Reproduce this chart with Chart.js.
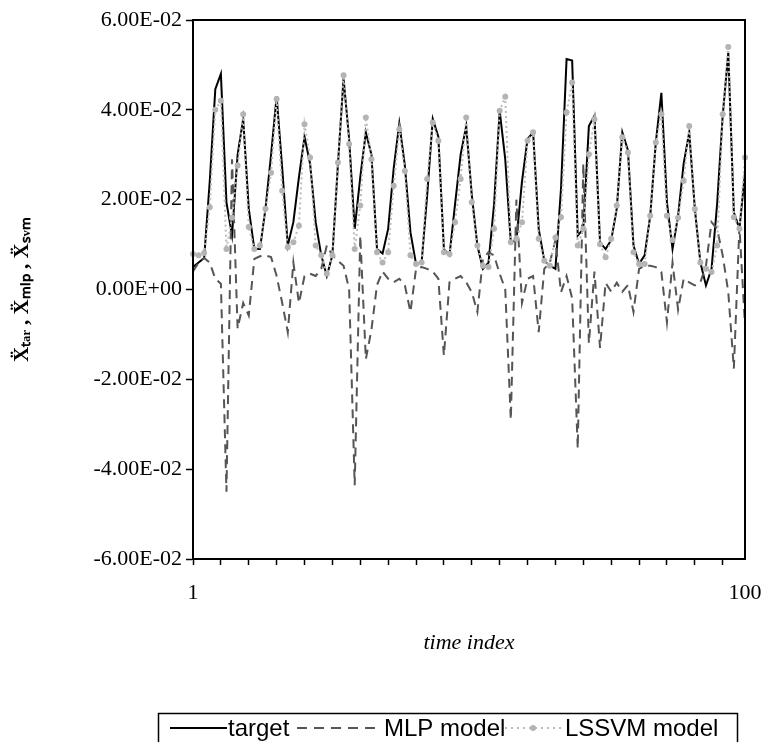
<!DOCTYPE html>
<html>
<head>
<meta charset="utf-8">
<script src="https://cdn.jsdelivr.net/npm/chart.js@4.4.0/dist/chart.umd.min.js"></script>
<style>
  html, body { margin: 0; padding: 0; background: #fff; }
</style>
</head>
<body>
<canvas id="chart" width="763" height="742"></canvas>
<script>
// time index 1..100
const timeIndex = [];
for (let i = 1; i <= 100; i++) timeIndex.push(String(i));

const yTicks = [-0.06, -0.04, -0.02, 0, 0.02, 0.04, 0.06];
const xShownLabels = ['1', '100'];

const target = [
  0.005, 0.006, 0.007, 0.024, 0.0446, 0.048, 0.0194, 0.012, 0.030, 0.038,
  0.018, 0.009, 0.009, 0.018, 0.030, 0.043, 0.027, 0.0098, 0.015, 0.025,
  0.034, 0.028, 0.015, 0.0076, 0.003, 0.0076, 0.028, 0.047, 0.0335, 0.0135,
  0.025, 0.035, 0.030, 0.009, 0.008, 0.0135, 0.027, 0.037, 0.0275, 0.0127,
  0.0057, 0.006, 0.021, 0.038, 0.034, 0.009, 0.0076, 0.019, 0.030, 0.0364,
  0.021, 0.0098, 0.0046, 0.006, 0.019, 0.0398, 0.029, 0.0105, 0.011, 0.024,
  0.0335, 0.035, 0.0135, 0.0064, 0.0053, 0.0046, 0.0224, 0.0513, 0.051, 0.012,
  0.0135, 0.0364, 0.0387, 0.0105, 0.009, 0.011, 0.018, 0.035, 0.031, 0.0098,
  0.0057, 0.0076, 0.0164, 0.0327, 0.0438, 0.0194, 0.009, 0.0164, 0.028, 0.035,
  0.018, 0.006, 0.0009, 0.0046, 0.019, 0.0387, 0.0527, 0.0172, 0.0135, 0.026
];

const mlpModel = [
  0.004, 0.006, 0.007, 0.006, 0.0024, 0.0013, -0.045, 0.029, -0.0087, -0.003,
  -0.0058, 0.0068, 0.0074, 0.0076, 0.0072, 0.003, -0.003, -0.0095, 0.006, -0.003,
  0.003, 0.0035, 0.003, 0.0046, 0.0098, 0.0076, 0.0064, 0.0053, 0.0001, -0.0436,
  0.012, -0.0155, -0.009, 0.001, 0.004, 0.0024, 0.0016, 0.0024, 0.0009, -0.005,
  0.0046, 0.005, 0.0046, 0.004, 0.0024, -0.0147, 0.0016, 0.0024, 0.003, 0.0016,
  -0.0006, -0.005, 0.0068, 0.0083, 0.0076, 0.0035, 0.0001, -0.029, 0.020, -0.003,
  0.0024, 0.003, -0.0095, 0.0046, 0.006, 0.011, -0.0006, 0.003, -0.002, -0.0354,
  0.028, -0.012, 0.004, -0.013, 0.0015, -0.0005, 0.0015, -0.0005, 0.001, -0.005,
  0.0046, 0.0053, 0.0053, 0.005, 0.0039, -0.0073, 0.006, -0.0045, 0.0024, 0.0016,
  0.0009, 0.0016, 0.0053, 0.015, 0.0135, 0.0076, -0.0006, -0.0176, 0.014, -0.008
];

const lssvmModel = [
  0.0079, 0.0076, 0.0081, 0.0183, 0.040, 0.042, 0.009, 0.016, 0.0276, 0.039,
  0.0139, 0.009, 0.0098, 0.018, 0.026, 0.0424, 0.022, 0.0094, 0.0105, 0.0142,
  0.0368, 0.0294, 0.0098, 0.0076, 0.0035, 0.0076, 0.0283, 0.0477, 0.0324, 0.009,
  0.0187, 0.0383, 0.029, 0.0083, 0.006, 0.0083, 0.0231, 0.0357, 0.0264, 0.0076,
  0.0057, 0.006, 0.0246, 0.0372, 0.0331, 0.0083, 0.0079, 0.015, 0.0246, 0.0383,
  0.0194, 0.0098, 0.0053, 0.005, 0.0135, 0.0398, 0.0429, 0.0105, 0.0113, 0.015,
  0.0331, 0.035, 0.0113, 0.0064, 0.0053, 0.0116, 0.0161, 0.0394, 0.0461, 0.0098,
  0.0135, 0.0301, 0.0379, 0.0101, 0.0072, 0.0113, 0.0187, 0.0339, 0.0305, 0.0083,
  0.0057, 0.0057, 0.0164, 0.0327, 0.039, 0.0164, 0.011, 0.016, 0.0242, 0.0364,
  0.0179, 0.006, 0.0046, 0.0039, 0.0098, 0.039, 0.054, 0.0161, 0.0135, 0.0294
];

const serif = '"Liberation Serif", "Times New Roman", serif';
const sans = '"Liberation Sans", Arial, sans-serif';

// 6.00E-02 style labels
function sci(v) {
  if (Math.abs(v) < 1e-12) v = 0;
  const parts = v.toExponential(2).toUpperCase().split('E');
  let exp = parseInt(parts[1], 10);
  const sign = exp < 0 ? '-' : '+';
  exp = Math.abs(exp);
  return parts[0] + 'E' + sign + (exp < 10 ? '0' + exp : exp);
}

// plot frame (top and right sides too)
const framePlugin = {
  id: 'frame',
  afterDatasetsDraw(chart) {
    const a = chart.chartArea, ctx = chart.ctx;
    ctx.save();
    ctx.strokeStyle = '#000';
    ctx.lineWidth = 2;
    ctx.strokeRect(a.left, a.top, a.right - a.left, a.bottom - a.top);
    ctx.restore();
  }
};

// boxed legend under the axis title
const legendBox = {
  id: 'legendBox',
  afterDraw(chart) {
    const ctx = chart.ctx;
    const y = 728;
    ctx.save();
    ctx.strokeStyle = '#000';
    ctx.lineWidth = 1.5;
    ctx.strokeRect(158.5, 713.5, 579, 40);

    ctx.font = '24px ' + sans;
    ctx.fillStyle = '#000';
    ctx.textBaseline = 'middle';

    // target
    ctx.strokeStyle = '#000';
    ctx.lineWidth = 2;
    ctx.beginPath(); ctx.moveTo(170, y); ctx.lineTo(227, y); ctx.stroke();
    ctx.fillText('target', 228, y + 1);

    // MLP
    ctx.strokeStyle = '#555';
    ctx.setLineDash([10, 7]);
    ctx.beginPath(); ctx.moveTo(297, y); ctx.lineTo(382, y); ctx.stroke();
    ctx.setLineDash([]);
    ctx.fillText('MLP model', 384, y + 1);

    // LSSVM
    ctx.strokeStyle = '#bbb';
    ctx.setLineDash([2, 4]);
    ctx.beginPath(); ctx.moveTo(505, y); ctx.lineTo(562, y); ctx.stroke();
    ctx.setLineDash([]);
    ctx.fillStyle = '#b4b4b4';
    ctx.beginPath(); ctx.arc(533, y, 3, 0, Math.PI * 2); ctx.fill();
    ctx.fillStyle = '#000';
    ctx.fillText('LSSVM model', 565, y + 1);
    ctx.restore();
  }
};

new Chart(document.getElementById('chart'), {
  type: 'line',
  data: {
    labels: timeIndex,
    datasets: [
      {
        label: 'target',
        data: target,
        borderColor: '#000',
        borderWidth: 2,
        pointRadius: 0,
        tension: 0,
        order: 2
      },
      {
        label: 'MLP model',
        data: mlpModel,
        borderColor: '#555',
        borderWidth: 2,
        borderDash: [9, 6],
        pointRadius: 0,
        tension: 0,
        order: 1
      },
      {
        label: 'LSSVM model',
        data: lssvmModel,
        borderColor: '#bbb',
        borderWidth: 2,
        borderDash: [2, 3],
        pointRadius: 3,
        pointBackgroundColor: '#b4b4b4',
        pointBorderWidth: 0,
        tension: 0,
        order: 0
      }
    ]
  },
  options: {
    responsive: false,
    animation: false,
    devicePixelRatio: 1,
    layout: { padding: { left: 0, right: 18, top: 20, bottom: 0 } },
    plugins: {
      legend: { display: false },
      tooltip: { enabled: false }
    },
    scales: {
      x: {
        type: 'category',
        offset: false,
        grid: {
          drawOnChartArea: false,
          tickLength: 6,
          tickWidth: 1.5,
          tickColor: ctx => (ctx.index % 5 === 0 && ctx.index < 99) ? '#000' : 'rgba(0,0,0,0)'
        },
        border: { color: '#000', width: 2 },
        ticks: {
          autoSkip: false,
          maxRotation: 0,
          padding: 15,
          color: '#000',
          font: { family: serif, size: 22 },
          callback: (v, i) => {
            const lab = timeIndex[i];
            return xShownLabels.includes(lab) ? lab : '';
          }
        },
        title: {
          display: true,
          text: 'time index',
          color: '#000',
          font: { family: serif, size: 22, style: 'italic' },
          padding: { top: 0, bottom: 86 }
        },
        afterFit: s => { s.height = 183; s.paddingLeft = 0; s.paddingRight = 0; }
      },
      y: {
        min: -0.06,
        max: 0.06,
        grid: {
          drawOnChartArea: false,
          tickLength: 7,
          tickWidth: 1.5,
          tickColor: '#000'
        },
        border: { color: '#000', width: 2 },
        afterBuildTicks: s => { s.ticks = yTicks.map(v => ({ value: v })); },
        ticks: {
          padding: 4,
          color: '#000',
          font: { family: serif, size: 22 },
          callback: v => sci(v)
        },
        title: {
          display: true,
          text: 'Ẍₜₐᵣ , Ẍₘₗₚ , Ẍₛᵥₘ',
          color: '#000',
          font: { family: serif, size: 21, weight: 'bold' },
          padding: { top: 10, bottom: 0 }
        },
        afterFit: s => { s.width = 193; }
      }
    }
  },
  plugins: [framePlugin, legendBox]
});
</script>
</body>
</html>
